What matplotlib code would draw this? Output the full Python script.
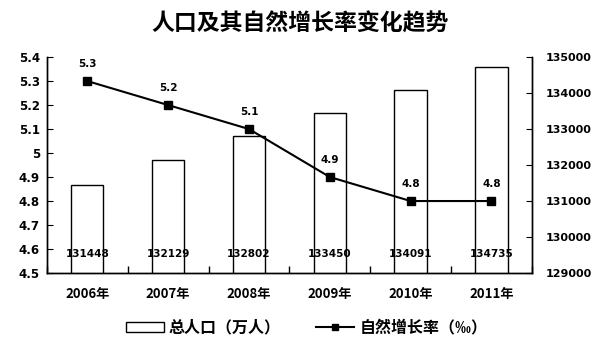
import matplotlib.pyplot as plt
import numpy as np
from matplotlib.patches import Patch
from matplotlib.lines import Line2D

plt.rcParams['font.family'] = ['Noto Sans CJK SC', 'DejaVu Sans']
plt.rcParams['font.weight'] = 'bold'
num_font = ['DejaVu Sans']

years = ['2006年', '2007年', '2008年', '2009年', '2010年', '2011年']
population = [131448, 132129, 132802, 133450, 134091, 134735]
growth_rate = [5.3, 5.2, 5.1, 4.9, 4.8, 4.8]

fig = plt.figure(figsize=(6.01, 3.48), dpi=100)
ax1 = fig.add_axes([0.078, 0.2155, 0.807, 0.6205])
ax2 = ax1.twinx()

x = np.arange(len(years))

# bars on right axis
ax2.bar(x, population, width=0.4, color='white', edgecolor='black', linewidth=1.0)
ax2.set_ylim(129000, 135000)
ax2.set_yticks(np.arange(129000, 135001, 1000))
for xi, v in zip(x, population):
    ax2.annotate(str(v), (xi, 129000), xytext=(0, 10), textcoords='offset points',
                 ha='center', va='bottom', fontsize=7.5, fontweight='bold', family=num_font)

# line on left axis
ax1.plot(x, growth_rate, color='black', linewidth=1.5, marker='s', markersize=6)
ax1.set_ylim(4.5, 5.4)
ax1.set_yticks(np.arange(4.5, 5.41, 0.1))
ax1.set_yticklabels(['4.5', '4.6', '4.7', '4.8', '4.9', '5', '5.1', '5.2', '5.3', '5.4'])
for xi, v in zip(x, growth_rate):
    ax1.annotate(str(v), (xi, v), xytext=(0, 9), textcoords='offset points',
                 ha='center', va='bottom', fontsize=7.5, fontweight='bold', family=num_font)

ax1.set_zorder(ax2.get_zorder() + 1)
ax1.patch.set_visible(False)

ax1.set_xlim(-0.5, len(years) - 0.5)
ax1.set_xticks(x)
ax1.set_xticklabels(years, fontsize=9.5, fontweight='bold')
ax1.set_xticks(np.arange(-0.5, len(years), 1), minor=True)
ax1.tick_params(axis='x', which='major', length=0, pad=10)
ax1.tick_params(axis='x', which='minor', length=5, direction='in', width=1)
ax1.tick_params(axis='y', direction='in', length=4, labelsize=8.5, pad=5)
ax2.tick_params(axis='y', direction='in', length=4, labelsize=8, pad=10)

for a in (ax1, ax2):
    a.spines['top'].set_visible(False)
    for s in ('left', 'right', 'bottom'):
        a.spines[s].set_linewidth(1.0)

for lab in ax1.get_yticklabels() + ax2.get_yticklabels():
    lab.set_fontweight('bold')
    lab.set_family(num_font)

fig.text(0.5, 0.93, '人口及其自然增长率变化趋势', ha='center', va='center',
         fontsize=16.5, fontweight='bold')

handles = [Patch(facecolor='white', edgecolor='black', linewidth=1.0),
           Line2D([0], [0], color='black', linewidth=1.5, marker='s', markersize=4)]
fig.legend(handles, ['总人口（万人）', '自然增长率（‰）'], loc='center',
           bbox_to_anchor=(0.51, 0.058), ncol=2, frameon=False, fontsize=11.5,
           handlelength=2.4, handleheight=0.6, columnspacing=2.2, handletextpad=0.3)

fig.savefig('out.png', dpi=100)
